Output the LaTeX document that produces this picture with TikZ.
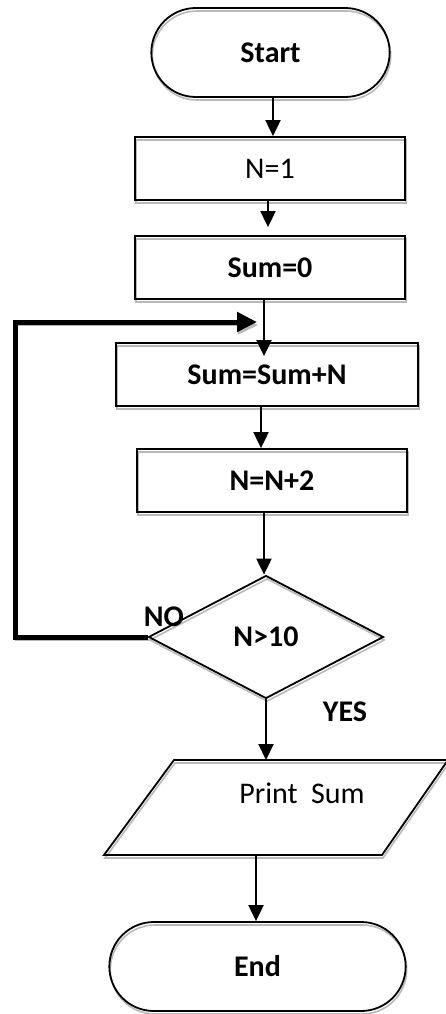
\documentclass[tikz,border=0pt]{standalone}
\usepackage{fontspec}
\setmainfont{Carlito}
\usetikzlibrary{shapes.geometric,shapes.misc,arrows.meta,shadows}
\begin{document}
\begin{tikzpicture}[x=1pt,y=-1pt,
  every node/.style={font=\fontsize{30}{32}\selectfont},
  sh/.style={general shadow={shadow xshift=1pt, shadow yshift=-3pt, draw=gray!55, line width=1.6pt}},
  term/.style={sh, draw, line width=1.8pt, rounded rectangle, minimum height=89pt, font=\fontsize{30}{32}\selectfont\bfseries},
  proc/.style={sh, draw, line width=1.8pt, rectangle, minimum height=63pt},
  dec/.style={sh, draw, line width=1.8pt, diamond, aspect=1.9, inner sep=1pt, minimum width=235pt, minimum height=123pt, font=\fontsize{30}{32}\selectfont\bfseries},
  lbl/.style={font=\fontsize{30}{32}\selectfont\bfseries, inner sep=0pt},
  arr/.style={line width=2pt, -{Triangle[width=15pt,length=16pt]}},
  loop/.style={sh, line width=5pt, -{Triangle[width=19pt,length=20pt]}}
]
\useasboundingbox (0,0) rectangle (445,1014);

\node[term, minimum width=245pt] (S) at (270.5,52.5) {Start};
\node[proc, minimum width=270pt] (N1) at (270,168.5) {N=1};
\node[proc, minimum width=270pt, font=\fontsize{30}{32}\selectfont\bfseries] (S0) at (270,267.5) {Sum=0};
\node[proc, minimum width=302pt, font=\fontsize{30}{32}\selectfont\bfseries] (SS) at (267,374.5) {Sum=Sum+N};
\node[proc, minimum width=270pt, font=\fontsize{30}{32}\selectfont\bfseries] (NN) at (272,480.5) {N=N+2};
\node[dec] (D) at (266,637) {N>10};

% parallelogram
\coordinate (P1) at (174,760);
\coordinate (P2) at (448,760);
\coordinate (P3) at (382,855);
\coordinate (P4) at (104,855);
\draw[sh, line width=1.8pt] (P1) -- (P2) -- (P3) -- (P4) -- cycle;
\node[inner sep=0pt] (PT) at (302,793) {Print\ \ Sum};
\coordinate (Pin) at (268,760);
\coordinate (Pout) at (256,855);

\node[term, minimum width=303pt] (E) at (257.5,966.5) {End};

\node[lbl] (NO) at (164,617) {NO};
\node[lbl] (YES) at (345,712) {YES};

% connectors
\draw[arr] ([xshift=2.5pt]S.south) -- ([xshift=2.5pt]S.south |- N1.north);
\draw[arr] ([xshift=-2pt]N1.south) -- ([xshift=-2pt,yshift=8pt]N1.south |- S0.north);
\draw[arr] ([xshift=-6pt]S0.south) -- ([xshift=-3pt,yshift=-14pt]SS.north);
\draw[arr] ([xshift=-6pt]SS.south) -- ([xshift=-6pt]SS.south |- NN.north);
\draw[arr] ([xshift=-8pt]NN.south) -- ([xshift=-8pt]NN.south |- D.north);
\draw[arr] (D.south) -- (D.south |- Pin);
\draw[arr] (Pout) -- (Pout |- E.north);

\coordinate (LT) at (15,322);
\coordinate (LA) at (257,322);
\draw[loop] (D.west) -| (LT) -- (LA);
\end{tikzpicture}
\end{document}
